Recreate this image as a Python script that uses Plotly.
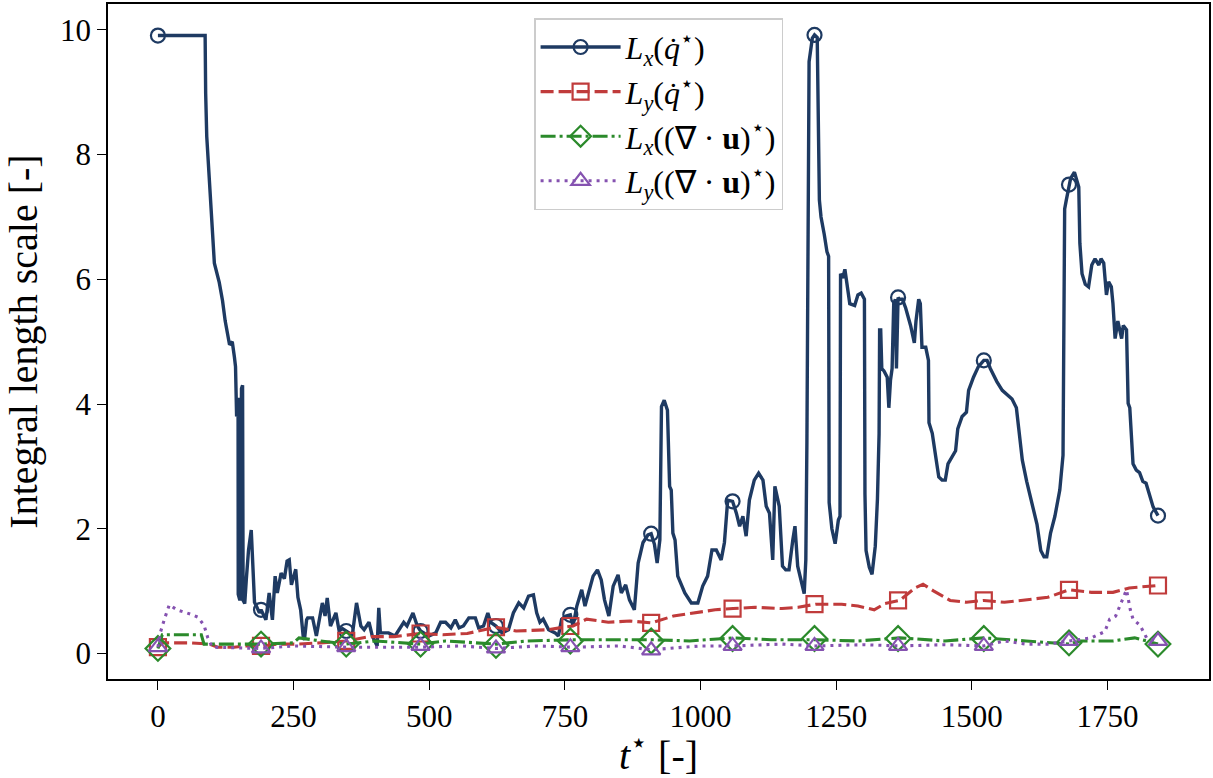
import plotly.graph_objects as go

# ---------------- data ----------------
lxq_t = [0, 87, 88, 90, 104, 113, 119, 124, 132, 137, 141, 143, 145, 147.7, 148, 151, 154, 156, 157, 160,
         163, 167, 172, 174, 176, 178, 182, 187, 190, 194, 199, 205, 211, 216, 220, 227, 233, 238, 242, 246,
         251, 254, 258, 263, 268, 270, 274, 276, 285, 292, 303, 308, 312, 318, 328, 334, 340, 347, 352, 358,
         366, 374, 380, 389, 395, 404, 407, 410, 425, 437, 453, 459, 470, 478, 484, 499, 512, 521, 530, 540,
         548, 555, 563, 573, 585, 591, 600, 608, 613, 623, 634, 646, 655, 665, 674, 683, 692, 698, 704, 710,
         720, 732, 738, 744, 752, 760, 765, 772, 781, 787, 793, 802, 810, 817, 823, 831, 839, 848, 854, 862,
         869, 878, 885, 894, 903, 909, 915, 920, 925, 928, 933, 939, 943, 946, 949, 953, 958, 971, 983, 995,
         1004, 1013, 1021, 1029, 1038, 1044, 1050, 1059, 1066, 1072, 1078, 1084, 1090, 1099, 1107, 1115, 1121,
         1127, 1133, 1137, 1145, 1151, 1157, 1163, 1170, 1174, 1179, 1185, 1191, 1194, 1196, 1200, 1206, 1210,
         1215, 1219, 1222, 1228, 1233, 1236, 1237, 1242, 1248, 1254, 1257, 1258, 1262, 1266, 1269, 1275, 1284,
         1290, 1296, 1302, 1303, 1305, 1311, 1316, 1322, 1326, 1329, 1330, 1332, 1334, 1338, 1344, 1347, 1350,
         1353, 1356, 1359, 1361, 1364, 1366, 1372, 1378, 1387, 1394, 1397, 1402, 1405, 1408, 1415, 1420, 1421,
         1427, 1433, 1439, 1445, 1451, 1456, 1463, 1470, 1474, 1482, 1490, 1494, 1503, 1512, 1522, 1528, 1534,
         1546, 1556, 1565, 1574, 1582, 1590, 1593, 1601, 1611, 1620, 1627, 1633, 1638, 1645, 1653, 1662, 1668,
         1670, 1671, 1674, 1679, 1682, 1689, 1693, 1697, 1699, 1703, 1709, 1715, 1721, 1727, 1734, 1738, 1743,
         1748, 1752, 1757, 1760, 1764, 1769, 1772, 1776, 1779, 1785, 1788, 1791, 1797, 1803, 1809, 1815, 1821,
         1827, 1834, 1843]
lxq_v = [9.91, 9.91, 8.98, 8.29, 6.26, 5.95, 5.66, 5.33, 4.95, 5.0, 4.75, 4.6, 3.8, 4.1, 0.95, 0.85, 4.25, 4.3, 0.85, 0.8,
         1.2, 1.66, 1.98, 1.6, 1.29, 0.82, 0.75, 0.65, 0.70, 0.62, 0.54, 0.97, 0.54, 1.24, 0.97, 1.29, 1.2, 1.48, 1.5, 1.1,
         1.24, 1.35, 0.9, 0.7, 0.25, 0.22, 0.54, 0.57, 0.57, 0.28, 0.81, 0.6, 0.89, 0.44, 0.65, 0.36, 0.4, 0.36, 0.33, 0.28,
         0.81, 0.44, 0.38, 0.5, 0.28, 0.12, 0.73, 0.33, 0.33, 0.28, 0.5, 0.44, 0.65, 0.44, 0.36, 0.28, 0.33, 0.5, 0.5, 0.41,
         0.54, 0.41, 0.44, 0.57, 0.57, 0.41, 0.44, 0.65, 0.5, 0.44, 0.33, 0.38, 0.65, 0.81, 0.73, 0.92, 0.94, 0.65, 0.5, 0.55,
         0.38, 0.33, 0.28, 0.55, 0.6, 0.62, 0.44, 0.76, 1.02, 0.76, 0.97, 1.24, 1.34, 1.18, 0.86, 0.6, 1.08, 1.26, 0.97, 1.1,
         0.86, 0.7, 1.45, 1.78, 1.9, 1.92, 1.75, 1.45, 1.82, 3.96, 4.06, 3.9, 2.68, 2.62, 1.93, 1.82, 1.24, 0.97, 0.81, 0.81,
         1.08, 1.24, 1.66, 1.66, 1.5, 1.78, 2.46, 2.44, 2.25, 2.04, 2.2, 1.88, 2.46, 2.78, 2.89, 2.78, 2.36,
         2.25, 1.5, 2.68, 2.36, 1.4, 1.34, 1.34, 1.82, 2.04, 1.4, 1.18, 0.96, 1.5, 3.39, 9.49, 9.87, 9.92,
         9.88, 7.27, 7.0, 6.72, 6.44, 6.37, 2.42, 2.0, 1.76, 2.14, 2.2, 6.09, 6.02, 6.16, 5.95, 5.61, 5.58,
         5.75, 5.78, 5.68, 2.55, 1.65, 1.38, 1.27, 1.72, 2.48, 3.52, 5.19, 5.19, 4.57, 4.53, 4.43, 3.94, 4.38,
         4.57, 5.61, 5.68, 4.57, 5.71, 5.68, 5.68, 5.54, 5.26, 4.98, 5.33, 5.68, 5.61, 4.91, 4.91, 4.7, 3.7,
         3.53, 3.18, 2.83, 2.78, 2.78, 3.04, 3.14, 3.25, 3.6, 3.8, 3.87, 4.22, 4.43, 4.6, 4.70, 4.7, 4.57,
         4.36, 4.22, 4.15, 4.08, 3.94, 3.25, 3.1, 2.76, 2.42, 2.07, 1.65, 1.55, 1.55, 1.93, 2.2, 2.62, 3.18,
         5.61, 7.13, 7.27, 7.52, 7.62, 7.72, 7.62, 7.48, 6.58, 6.09, 5.92, 5.88, 6.23, 6.33, 6.23, 6.33, 6.26,
         5.75, 5.96, 5.88, 5.61, 5.05, 5.33, 5.19, 5.05, 5.26, 5.19, 4.01, 3.94, 3.04, 2.94, 2.9, 2.76, 2.73,
         2.55, 2.35, 2.21]

lyq_t = [0, 8, 60, 95, 110, 140, 160, 190, 220, 260, 300, 347, 390, 435, 484, 525, 570, 623, 660, 720,
         740, 765, 790, 830, 870, 909, 950, 990, 1027, 1060, 1100, 1150, 1180, 1212, 1260, 1290, 1320, 1340,
         1367, 1395, 1410, 1430, 1460, 1490, 1522, 1560, 1600, 1640, 1679, 1720, 1760, 1790, 1843]
lyq_v = [0.10, 0.17, 0.17, 0.15, 0.10, 0.10, 0.12, 0.12, 0.15, 0.15, 0.17, 0.20, 0.27, 0.27, 0.32, 0.30, 0.32, 0.42, 0.36, 0.38,
         0.41, 0.44, 0.55, 0.50, 0.52, 0.49, 0.60, 0.65, 0.70, 0.72, 0.74, 0.72, 0.74, 0.79, 0.79, 0.76, 0.70, 0.80,
         0.85, 1.05, 1.11, 1.00, 0.85, 0.82, 0.85, 0.82, 0.86, 0.90, 1.02, 0.98, 0.98, 1.05, 1.09]

lxd_t = [0, 8, 20, 80, 85, 190, 250, 260, 300, 347, 400, 484, 530, 623, 680, 765, 830, 909, 980, 1060,
         1130, 1212, 1290, 1367, 1450, 1522, 1600, 1679, 1700, 1760, 1800, 1843]
lxd_v = [0.08, 0.30, 0.30, 0.30, 0.15, 0.15, 0.17, 0.25, 0.20, 0.15, 0.20, 0.15, 0.20, 0.15, 0.20, 0.22, 0.22, 0.22, 0.20, 0.25,
         0.22, 0.22, 0.20, 0.25, 0.20, 0.25, 0.20, 0.15, 0.20, 0.20, 0.25, 0.15]

lyd_t = [0, 5, 12, 21, 35, 46, 60, 74, 85, 92, 100, 190, 250, 347, 420, 484, 560, 623, 700, 765,
         850, 909, 1000, 1060, 1150, 1212, 1300, 1367, 1450, 1522, 1560, 1600, 1640, 1679, 1720, 1745, 1754,
         1765, 1780, 1785, 1792, 1797, 1810, 1822, 1843]
lyd_v = [0.10, 0.35, 0.55, 0.78, 0.70, 0.67, 0.63, 0.58, 0.45, 0.25, 0.10, 0.08, 0.12, 0.10, 0.10, 0.10, 0.12, 0.08, 0.12, 0.10,
         0.12, 0.06, 0.12, 0.12, 0.15, 0.12, 0.14, 0.12, 0.14, 0.12, 0.20, 0.15, 0.15, 0.20, 0.25, 0.35, 0.55,
         0.60, 0.90, 1.02, 0.70, 0.55, 0.45, 0.25, 0.20]

# marker positions (every n-th sample)
mark_t = [0, 190, 347, 484, 623, 760, 909, 1059, 1210, 1364, 1522, 1679, 1843]
lxq_mark = [9.91, 0.70, 0.36, 0.36, 0.44, 0.62, 1.92, 2.44, 9.92, 5.71, 4.70, 7.52, 2.21]
lyq_mark = [0.10, 0.12, 0.20, 0.32, 0.42, 0.44, 0.49, 0.72, 0.79, 0.85, 0.85, 1.02, 1.09]
lxd_mark = [0.08, 0.15, 0.15, 0.15, 0.13, 0.20, 0.20, 0.24, 0.24, 0.24, 0.24, 0.17, 0.15]
lyd_mark = [0.10, 0.08, 0.10, 0.12, 0.08, 0.10, 0.05, 0.12, 0.12, 0.12, 0.12, 0.20, 0.20]

names = ["<i>L<sub>x</sub></i>(<i>q̇</i><sup>⋆</sup>)",
         "<i>L<sub>y</sub></i>(<i>q̇</i><sup>⋆</sup>)",
         "<i>L<sub>x</sub></i>((∇ · <b>u</b>)<sup>⋆</sup>)",
         "<i>L<sub>y</sub></i>((∇ · <b>u</b>)<sup>⋆</sup>)"]

x_ticks = [0, 250, 500, 750, 1000, 1250, 1500, 1750]
y_ticks = [0, 2, 4, 6, 8, 10]

# ---------------- styling ----------------
colors = ["#1e3a62", "#c03b3b", "#2b8a2b", "#8552b0"]
dashes = ["solid", "13px,5px", "15px,4px,3px,4px", "3px,5px"]
symbols = ["circle-open", "square-open", "diamond-open", "triangle-up-open"]
msizes = [14, 16, 19, 16]
lwidths = [3.4, 3.1, 3.1, 3.1]
FONT = "Liberation Serif, Times New Roman, serif"

fig = go.Figure()
series = [(lxq_t, lxq_v, lxq_mark), (lyq_t, lyq_v, lyq_mark),
          (lxd_t, lxd_v, lxd_mark), (lyd_t, lyd_v, lyd_mark)]
for i, (t, v, m) in enumerate(series):
    fig.add_trace(go.Scatter(x=t, y=v, mode="lines", showlegend=False,
                             line=dict(color=colors[i], width=lwidths[i], dash=dashes[i])))
    fig.add_trace(go.Scatter(x=mark_t, y=m, mode="markers", showlegend=False,
                             marker=dict(symbol=symbols[i], size=msizes[i], color=colors[i],
                                         line=dict(color=colors[i], width=2.2))))
    # legend entry
    fig.add_trace(go.Scatter(x=[None], y=[None], mode="lines+markers", name=names[i],
                             line=dict(color=colors[i], width=lwidths[i], dash=dashes[i]),
                             marker=dict(symbol=symbols[i], size=msizes[i], color=colors[i],
                                         line=dict(color=colors[i], width=2.2))))

axis_common = dict(showline=True, linecolor="black", linewidth=1.6, mirror=True,
                   ticks="outside", ticklen=9, tickwidth=1.4, tickcolor="black",
                   showgrid=False, zeroline=False,
                   tickfont=dict(family=FONT, size=31, color="black"))

fig.update_xaxes(range=[-92, 1937], tickvals=x_ticks, ticktext=[str(v) for v in x_ticks],
                 title=dict(text="<i>t</i><sup>⋆</sup> [-]", font=dict(family=FONT, size=40, color="black"),
                            standoff=6),
                 **axis_common)
fig.update_yaxes(range=[-0.41, 10.416], tickvals=y_ticks, ticktext=[str(v) for v in y_ticks],
                 title=dict(text="Integral length scale [-]", font=dict(family=FONT, size=40, color="black"),
                            standoff=10),
                 **axis_common)

fig.update_layout(
    width=1213, height=778,
    margin=dict(l=108, r=2, t=3, b=99),
    paper_bgcolor="white", plot_bgcolor="white",
    font=dict(family=FONT, color="black"),
    legend=dict(x=0.387, y=0.979, xanchor="left", yanchor="top",
                bgcolor="white", bordercolor="#cccccc", borderwidth=1.5,
                font=dict(family=FONT, size=32, color="black"),
                itemwidth=80, tracegroupgap=0),
)

fig.write_html("out.html")
